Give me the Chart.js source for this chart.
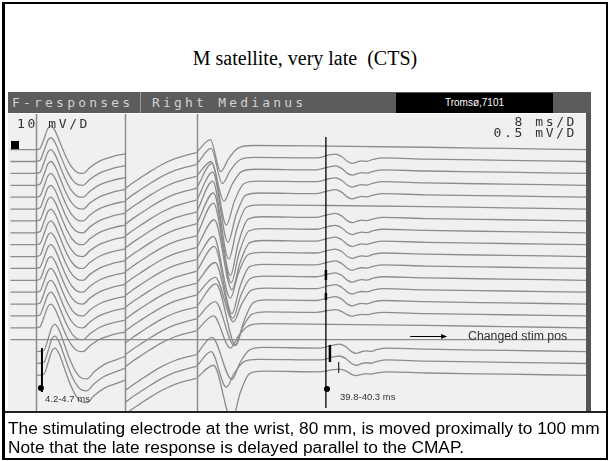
<!DOCTYPE html>
<html>
<head>
<meta charset="utf-8">
<script src="https://cdn.jsdelivr.net/npm/chart.js@4.4.1/dist/chart.umd.min.js"></script>
<style>
  body { margin: 0; background: #fff; }
  #slide { position: relative; width: 610px; height: 461px; overflow: hidden; background: #fff; }
  #frame { position: absolute; left: 2px; top: 2px; width: 606px; height: 458px; box-sizing: border-box;
           border: 2px solid #000; border-left-width: 3px; }
  #title { position: absolute; left: 0; width: 610px; top: 47px; text-align: center;
           font: 20px "Liberation Serif", "Times New Roman", serif; color: #000; }
  .bar { position: absolute; top: 92px; height: 21px; background: #5c5c5c; }
  .mono { position: absolute; font: 13px "DejaVu Sans Mono", monospace; letter-spacing: 3.2px; white-space: nowrap; }
  .hdr { color: #d2d2d2; top: 95px; }
  #black { position: absolute; left: 396px; top: 93px; width: 157px; height: 20px; background: #000;
           color: #fff; font: 10px "Liberation Sans", Arial, sans-serif; text-align: center; line-height: 20px; }
  #sep { position: absolute; left: 140px; top: 92px; width: 1px; height: 21px; background: #9a9a9a; }
  #plot { position: absolute; left: 8px; top: 114px; width: 578px; height: 297px; background: #f0f0f0; }
  #rbar { position: absolute; left: 586px; top: 113px; width: 5px; height: 298px; background: #555; }
  #rule { position: absolute; left: 2px; top: 411px; width: 606px; height: 2px; background: #222; }
  .lab { position: absolute; color: #333; }
  .note { position: absolute; font: 9.5px "Liberation Sans", Arial, sans-serif; color: #333; white-space: nowrap; }
  .cap { position: absolute; left: 8px; font: 17.3px "Liberation Sans", Arial, sans-serif; color: #000; white-space: nowrap; }
</style>
</head>
<body>
<div id="slide">
  <div id="title">M satellite, very late&nbsp; (CTS)</div>
  <div class="bar" style="left:8px; width:583px;"></div>
  <div id="sep"></div>
  <div class="mono hdr" style="left:12px;">F-responses</div>
  <div class="mono hdr" style="left:152px;">Right Medianus</div>
  <div id="black">Tromsø,7101</div>
  <canvas id="plot" width="578" height="297"></canvas>
  <div id="rbar"></div>
  <div class="mono lab" style="left:17px; top:116px; letter-spacing:2.6px;">10 mV/D</div>
  <div class="mono lab" style="right:33px; top:114px; letter-spacing:2.6px;">8 ms/D</div>
  <div class="mono lab" style="right:33px; top:125px; letter-spacing:2.6px;">0.5 mV/D</div>
  <div class="note" style="left:45px; top:393px;">4.2-4.7 ms</div>
  <div class="note" style="left:340px; top:391px;">39.8-40.3 ms</div>
  <div class="note" style="left:468px; top:329px; font-size:12.3px;">Changed stim pos</div>
  <div id="rule"></div>
  <div class="cap" style="top:418px;">The stimulating electrode at the wrist, 80 mm, is moved proximally to 100 mm</div>
  <div class="cap" style="top:437px;">Note that the late response is delayed parallel to the CMAP.</div>
  <div id="frame"></div>
</div>
<script>
// time axis in ms (8 ms/D), vertical axis in trace spacings
const MS_MAX = 72;
const Y_MAX = 25;

const traceBase = [22, 21, 20, 19, 18, 17, 16, 15, 14, 13, 12, 11, 10, 9, 8, 7, 6, 5, 4, 3];
const preStim   = [1, 1, 1, 1, 1, 1, 1, 1, 1, 1, 1, 1, 1, 1, 1, 1, 1, 0, 0, 0];

// CMAP at 10 mV/D
const cmapT = [3.49, 3.99, 4.48, 4.98, 5.35, 5.85, 6.48, 7.22, 7.97, 8.72, 9.34, 10.2, 11.46, 12.95, 14.57];
const cmapV = [0, 0.1, 0.9, 1.8, 2.0, 1.6, 0.6, -0.6, -1.5, -1.95, -2.0, -1.5, -0.95, -0.6, -0.35];
const cmapAmp   = [1, 1, 1, 1, 1, 1, 1, 1, 1, 1, 1, 1, 1, 1, 1, 1, 0, 1.15, 1.15, 1.15];
const cmapDelay = [0, 0, 0, 0, 0, 0, 0, 0, 0, 0, 0, 0, 0, 0, 0, 0, 0, 0.5, 0.5, 0.5];

// CMAP tail at 0.5 mV/D
const tailT = [14.57, 15.44, 16.44, 17.68, 19.18, 20.8, 22.29, 23.5];
const tailV = [-3.3, -2.85, -2.4, -1.85, -1.25, -0.75, -0.45, -0.25];

// early satellite wave after 23.5 ms
const fPeakT   = [25.2, 25.3, 25.3, 25.4, 25.5, 25.5, 25.6, 25.6, 25.7, 25.6, 25.7, 25.8, 25.8, 25.9, 25.8, 25.6, 0, 25.4, 25.3, 25.6];
const fPeakV   = [0.85, 1.1, 1.0, 1.85, 2.1, 2.35, 2.35, 2.5, 2.1, 1.7, 1.85, 1.5, 1.25, 1.7, 1.2, 1.0, 0, 1.2, 1.0, 0.85];
const fTroughT = [26.5, 26.7, 26.9, 27.2, 27.4, 27.5, 27.7, 27.8, 27.9, 27.7, 27.9, 28.0, 28.1, 28.4, 28.2, 27.7, 0, 27.9, 27.2, 27.9];
const fTroughV = [1.85, 1.85, 2.35, 3.35, 3.8, 4.2, 4.6, 4.2, 3.8, 3.5, 3.8, 3.2, 2.5, 3.5, 2.5, 1.7, 0, 2.35, 2.0, 3.8];
const recT = [1.0, 2.2, 4.0];
const recV = [-0.4, 0.15, 0.35];

// very late response around 40 ms
const lateT = [38.4, 40.0, 40.8, 41.6, 42.3, 42.9, 43.6, 44.1, 44.7, 45.5, 46.8];
const lateV = [0, 0.25, 0.33, 0.1, -0.3, -0.45, -0.3, -0.24, -0.28, -0.12, 0];
const lateAmp   = [0, 1, 1, 1, 1, 0, 1, 1, 1, 1, 1, 1, 1, 1, 0.7, 0, 0, 1, 1, 0.7];
const lateShift = [0, 0, 0, 0, 0, 0, 0, 0, 0, 0, 0, 0, 0, 0, 0, 0, 0, 0.5, 0.5, 0.5];
const driftT = [52, 62, 72];
const driftV = [0.2, 0.1, 0];

// screen dividers and cursors
const dividerMs = [3.49, 14.57, 23.54];
const markT  = [0.87, 4.23, 39.6, 39.6, 39.6, 40.1, 41.2];
const markY1 = [22.73, 5.3, 23.06, 11.87, 9.93, 5.56, 4.12];
const markY2 = [22.05, 1.6, 0.25, 11.03, 9.34, 4.12, 3.2];
const markW  = [8, 2, 1.3, 2.5, 2.5, 2.5, 1];
const dotT = [4.1, 39.74];
const dotY = [1.94, 1.85];
const arrowT = [50.1, 54.7];
const arrowY = 6.31;

function buildTrace(k) {
    const b = traceBase[k];
    const pts = [];
    if (cmapAmp[k] === 0) {
        // flat separator trace
        pts.push({ x: 0.3, y: b }, { x: MS_MAX, y: b });
        return pts;
    }
    if (preStim[k]) {
        pts.push({ x: 0.3, y: b }, { x: cmapT[0], y: b }, { x: cmapT[0], y: null });
    }
    cmapT.forEach((t, i) => {
        const shift = (i > 0 && i < cmapT.length - 1) ? cmapDelay[k] : 0;
        pts.push({ x: t + shift, y: b + cmapV[i] * cmapAmp[k] });
    });
    pts.push({ x: 14.57, y: null });
    tailT.forEach((t, i) => pts.push({ x: t, y: b + tailV[i] }));
    pts.push({ x: 23.52, y: null });

    pts.push({ x: 23.54, y: b - 0.2 });
    pts.push({ x: fPeakT[k], y: b + fPeakV[k] });
    pts.push({ x: fTroughT[k], y: b - fTroughV[k] });
    pts.push({ x: fTroughT[k] + recT[0], y: b + recV[0] * fTroughV[k] });
    pts.push({ x: fTroughT[k] + recT[1], y: b + recV[1] });
    pts.push({ x: fTroughT[k] + recT[2], y: b + recV[2] });
    if (lateAmp[k] > 0) {
        lateT.forEach((t, i) => pts.push({ x: t + lateShift[k], y: b + 0.3 + lateV[i] * lateAmp[k] }));
    } else {
        pts.push({ x: 40, y: b + 0.3 });
    }
    driftT.forEach((t, i) => pts.push({ x: t, y: b + driftV[i] }));
    return pts;
}

const datasets = traceBase.map((b, k) => ({
    data: buildTrace(k),
    borderColor: '#8c8c8c',
    borderWidth: 1.3,
    pointRadius: 0,
    cubicInterpolationMode: 'monotone',
    spanGaps: false,
    fill: false
}));

const screenMarks = {
    id: 'screenMarks',
    beforeDatasetsDraw(chart) {
        const { ctx, chartArea, scales: { x } } = chart;
        ctx.save();
        ctx.strokeStyle = '#8c8c8c';
        ctx.lineWidth = 1.5;
        for (const t of dividerMs) {
            const px = Math.round(x.getPixelForValue(t)) + 0.5;
            ctx.beginPath();
            ctx.moveTo(px, chartArea.top);
            ctx.lineTo(px, chartArea.bottom);
            ctx.stroke();
        }
        ctx.restore();
    },
    afterDatasetsDraw(chart) {
        const { ctx, scales: { x, y } } = chart;
        ctx.save();
        ctx.strokeStyle = '#000';
        ctx.fillStyle = '#000';
        markT.forEach((t, i) => {
            const px = x.getPixelForValue(t);
            ctx.lineWidth = markW[i];
            ctx.beginPath();
            ctx.moveTo(px, y.getPixelForValue(markY1[i]));
            ctx.lineTo(px, y.getPixelForValue(markY2[i]));
            ctx.stroke();
        });
        dotT.forEach((t, i) => {
            ctx.beginPath();
            ctx.arc(x.getPixelForValue(t), y.getPixelForValue(dotY[i]), 3, 0, Math.PI * 2);
            ctx.fill();
        });
        // arrow to the note
        const ax0 = x.getPixelForValue(arrowT[0]);
        const ax1 = x.getPixelForValue(arrowT[1]);
        const ay = Math.round(y.getPixelForValue(arrowY)) + 0.5;
        ctx.lineWidth = 1;
        ctx.beginPath();
        ctx.moveTo(ax0, ay);
        ctx.lineTo(ax1 - 4, ay);
        ctx.stroke();
        ctx.beginPath();
        ctx.moveTo(ax1, ay);
        ctx.lineTo(ax1 - 6, ay - 2.5);
        ctx.lineTo(ax1 - 6, ay + 2.5);
        ctx.closePath();
        ctx.fill();
        ctx.restore();
    }
};

new Chart(document.getElementById('plot'), {
    type: 'line',
    data: { datasets: datasets },
    options: {
        responsive: false,
        animation: false,
        devicePixelRatio: 1,
        layout: { padding: 0 },
        scales: {
            x: { type: 'linear', min: 0, max: MS_MAX, display: false },
            y: { type: 'linear', min: 0, max: Y_MAX, display: false }
        },
        plugins: {
            legend: { display: false },
            tooltip: { enabled: false }
        }
    },
    plugins: [screenMarks]
});
</script>
</body>
</html>
